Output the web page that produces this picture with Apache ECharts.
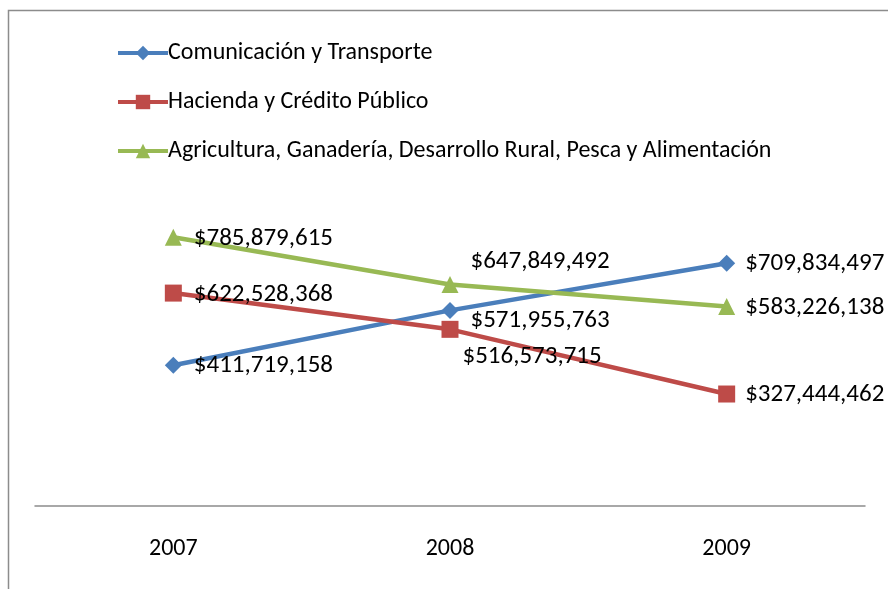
<!DOCTYPE html>
<html>
<head>
<meta charset="utf-8">
<script src="https://cdn.jsdelivr.net/npm/echarts@6/dist/echarts.min.js"></script>
<style>
  html, body { margin: 0; padding: 0; background: #fff; }
  #main { width: 888px; height: 589px; }
</style>
</head>
<body>
<div id="main"></div>
<script>
// datos
var years = ['2007', '2008', '2009'];
var seriesNames = [
    'Comunicación y Transporte',
    'Hacienda y Crédito Público',
    'Agricultura, Ganadería, Desarrollo Rural, Pesca y Alimentación'
];
var comunicacion = [411719158, 571955763, 709834497];
var hacienda = [622528368, 516573715, 327444462];
var agricultura = [785879615, 647849492, 583226138];

var font = "Carlito, 'Liberation Sans Narrow', 'Open Sans', sans-serif";

function money(p) {
    return '$' + Number(p.value).toLocaleString('en-US');
}

// desplazamiento de etiquetas (x, y) por punto
var labelOffsets = [
    [[0, 1], [0, 10], [-2, 1]],
    [[0, 2], [-8, 27], [-2, 1]],
    [[0, 2], [0, -23], [-2, 1]]
];

function points(values, idx) {
    return values.map(function (v, i) {
        return { value: v, label: { offset: labelOffsets[idx][i] } };
    });
}

var myChart = echarts.init(document.getElementById('main'));

var labelStyle = {
    show: true, position: 'right', distance: 12, formatter: money,
    fontFamily: font, fontSize: 25, color: '#000'
};

var option = {
    animation: false,
    color: ['#4A7EBB', '#BE4B48', '#98B954'],
    graphic: [{
        type: 'rect',
        shape: { x: 8.5, y: 10.5, width: 1000, height: 1000 },
        style: { fill: 'none', stroke: '#8c8c8c', lineWidth: 1.5 },
        silent: true
    }],
    legend: {
        orient: 'vertical',
        left: 111,
        top: 36,
        itemGap: 25,
        itemWidth: 50,
        itemHeight: 18,
        lineStyle: { width: 4 },
        textStyle: { fontFamily: font, fontSize: 24, color: '#000', padding: [0, 0, 0, -5] },
        data: seriesNames
    },
    grid: { left: 35, right: 23, top: 164, bottom: 83 },
    xAxis: {
        type: 'category',
        data: years,
        boundaryGap: true,
        axisLine: { lineStyle: { color: '#8c8c8c', width: 1.5 } },
        axisTick: { show: false },
        axisLabel: { fontFamily: font, fontSize: 24, color: '#000', margin: 31 }
    },
    yAxis: {
        type: 'value',
        min: 0,
        max: 1000000000,
        show: false,
        splitLine: { show: false }
    },
    series: [
        {
            name: seriesNames[0],
            type: 'line',
            data: points(comunicacion, 0),
            symbol: 'diamond',
            symbolSize: 17,
            lineStyle: { width: 4.5 },
            label: labelStyle
        },
        {
            name: seriesNames[1],
            type: 'line',
            data: points(hacienda, 1),
            symbol: 'rect',
            symbolSize: 17,
            lineStyle: { width: 4.5 },
            label: labelStyle
        },
        {
            name: seriesNames[2],
            type: 'line',
            data: points(agricultura, 2),
            symbol: 'triangle',
            symbolSize: 17,
            lineStyle: { width: 4.5 },
            label: labelStyle
        }
    ]
};

myChart.setOption(option);
</script>
</body>
</html>
